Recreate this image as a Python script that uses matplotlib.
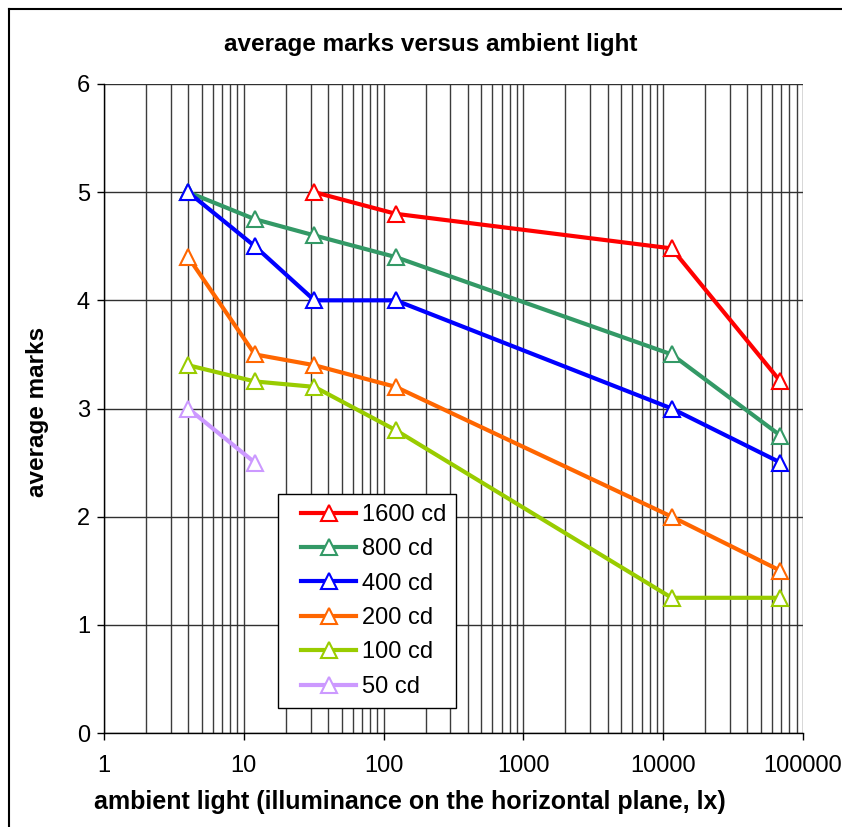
import matplotlib
matplotlib.use("Agg")
import matplotlib.pyplot as plt
from matplotlib.lines import Line2D
from matplotlib.ticker import LogLocator, FixedLocator, NullFormatter
from matplotlib.legend_handler import HandlerLine2D

plt.rcParams['font.family'] = ['Liberation Sans', 'DejaVu Sans']

# Data
series_names = ["1600 cd", "800 cd", "400 cd", "200 cd", "100 cd", "50 cd"]
x_1600 = [32, 122, 11500, 69000]
y_1600 = [5.0, 4.8, 4.48, 3.25]
x_800 = [4, 12, 32, 122, 11500, 69000]
y_800 = [5.0, 4.75, 4.6, 4.4, 3.5, 2.75]
x_400 = [4, 12, 32, 122, 11500, 69000]
y_400 = [5.0, 4.5, 4.0, 4.0, 3.0, 2.5]
x_200 = [4, 12, 32, 122, 11500, 69000]
y_200 = [4.4, 3.5, 3.4, 3.2, 2.0, 1.5]
x_100 = [4, 12, 32, 122, 11500, 69000]
y_100 = [3.4, 3.25, 3.2, 2.8, 1.25, 1.25]
x_50 = [4, 12]
y_50 = [3.0, 2.5]
colors = ["#FF0000", "#339966", "#0000FF", "#FF6600", "#99CC00", "#CC99FF"]
x_ticks = [1, 10, 100, 1000, 10000, 100000]
x_tick_labels = ["1", "10", "100", "1000", "10000", "100000"]
y_ticks = [0, 1, 2, 3, 4, 5, 6]

W, H = 842, 827
fig = plt.figure(figsize=(W / 100, H / 100), dpi=100)
L, R, T, B = 104, 803, 84, 733
ax = fig.add_axes([L / W, 1 - B / H, (R - L) / W, (B - T) / H])

ax.set_xscale('log')
ax.set_xlim(1, 100000)
ax.set_ylim(0, 6)

ax.xaxis.set_major_locator(FixedLocator(x_ticks))
ax.xaxis.set_minor_locator(LogLocator(base=10, subs=range(2, 10), numticks=20))
ax.xaxis.set_minor_formatter(NullFormatter())
ax.set_xticks(x_ticks)
ax.set_xticklabels(x_tick_labels)
ax.set_yticks(y_ticks)
ax.grid(True, which='both', axis='x', color='#3c3c3c', linewidth=1.0)
ax.grid(True, which='major', axis='y', color='#303030', linewidth=1.0)
ax.set_axisbelow(True)

for s in ['top', 'right']:
    ax.spines[s].set_visible(False)
for s in ['left', 'bottom']:
    ax.spines[s].set_color('black')
    ax.spines[s].set_linewidth(1.0)

ax.tick_params(axis='both', which='major', direction='out', length=5, width=1.0,
               labelsize=17, color='black')
ax.tick_params(axis='x', which='major', pad=11)
ax.tick_params(axis='x', which='minor', length=0)
ax.tick_params(axis='y', pad=5)

xs = [x_1600, x_800, x_400, x_200, x_100, x_50]
ys = [y_1600, y_800, y_400, y_200, y_100, y_50]
for xv, yv, c, n in zip(xs, ys, colors, series_names):
    ax.plot(xv, yv, color=c, linewidth=3, marker='^', markersize=11.5,
            markerfacecolor='white', markeredgecolor=c, markeredgewidth=1.5,
            label=n, clip_on=False, zorder=3)

leg = ax.legend(loc='upper left', bbox_to_anchor=(278 / W, 1 - 494 / H),
                bbox_transform=fig.transFigure, fontsize=17, frameon=True,
                fancybox=False, shadow=False, borderpad=0.42, labelspacing=0.525,
                handlelength=2.9, handletextpad=0.22, borderaxespad=0,
                handler_map={Line2D: HandlerLine2D(xpad=0.55)})
leg.get_frame().set_edgecolor('black')
leg.get_frame().set_linewidth(1.0)
leg.get_frame().set_alpha(1)

fig.text(431 / W, 1 - 45 / H, "average marks versus ambient light",
         ha='center', va='center', fontsize=17.5, fontweight='bold')
fig.text(410 / W, 1 - 802 / H, "ambient light (illuminance on the horizontal plane, lx)",
         ha='center', va='center', fontsize=18, fontweight='bold')
fig.text(38 / W, 1 - 412 / H, "average marks", rotation=90,
         ha='center', va='center', fontsize=17.5, fontweight='bold')

# figure border
fig.add_artist(Line2D([9 / W, 9 / W], [0, 1 - 9 / H], transform=fig.transFigure,
                      color='black', linewidth=1.5))
fig.add_artist(Line2D([9 / W, 1], [1 - 9 / H, 1 - 9 / H], transform=fig.transFigure,
                      color='black', linewidth=1.5))

fig.savefig("out.png", dpi=100)
